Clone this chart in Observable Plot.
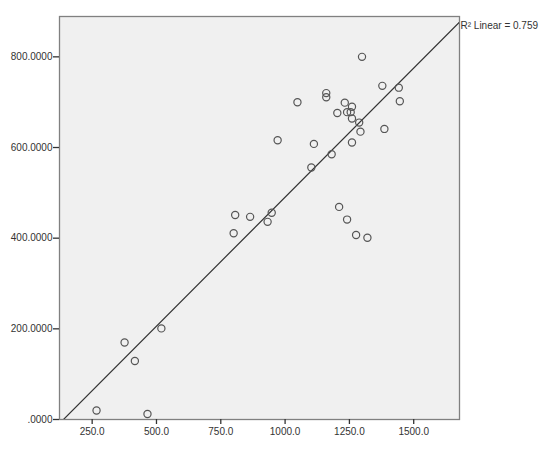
<!DOCTYPE html>
<html>
<head>
<meta charset="utf-8">
<script src="https://cdn.jsdelivr.net/npm/d3@7"></script>
<script src="https://cdn.jsdelivr.net/npm/@observablehq/plot@0.6"></script>
<style>
  html, body { margin: 0; padding: 0; background: #fff; }
  #chart { width: 550px; height: 449px; }
</style>
</head>
<body>
<div id="chart"></div>
<script>
const xValues = [1299, 1378, 1442, 1446, 1160, 1160, 1048, 1232, 1260, 1203, 1241, 1255, 1260, 1288, 1293, 1386, 971, 1112, 1260, 1181, 1102,
                 806, 864, 948, 932, 800, 1210, 1241, 1276, 1320,
                 519, 376, 416, 267, 465];
const yValues = [800, 736, 732, 702, 720, 711, 700, 699, 690, 676, 678, 678, 664, 655, 635, 641, 616, 608, 611, 585, 556,
                 451, 447, 456, 436, 411, 469, 441, 407, 401,
                 201, 170, 129, 20, 12];
const xTicks = [250, 500, 750, 1000, 1250, 1500];
const yTicks = [0, 200, 400, 600, 800];
const xDomain = [123, 1678];
const yDomain = [0, 889];
const fitLabel = "R² Linear = 0.759";

const points = xValues.map((x, i) => ({x, y: yValues[i]}));
const mx = d3.mean(xValues), my = d3.mean(yValues);
const slope = d3.sum(points, p => (p.x - mx) * (p.y - my)) / d3.sum(points, p => (p.x - mx) ** 2);
const intercept = my - slope * mx;
const fitLine = xDomain.map(x => ({x, y: intercept + slope * x}));

const chart = Plot.plot({
  width: 550,
  height: 449,
  marginLeft: 59,
  marginRight: 91,
  marginTop: 16,
  marginBottom: 30,
  style: {fontFamily: "'Liberation Sans', Arial, sans-serif", fontSize: "10px", color: "#333", background: "#fff"},
  x: {domain: xDomain, ticks: xTicks, tickFormat: d => d.toFixed(1), tickSize: 5, label: null},
  y: {domain: yDomain, ticks: yTicks, tickFormat: d => d === 0 ? ".0000" : d.toFixed(4), tickSize: 6, label: null},
  marks: [
    Plot.frame({fill: "#f0f0f0", stroke: "#808080", strokeWidth: 1.3}),
    Plot.axisX({ticks: xTicks, tickFormat: d => d.toFixed(1), tickSize: 5, tickPadding: 3, stroke: "#333", strokeWidth: 1.3}),
    Plot.axisY({ticks: yTicks, tickFormat: d => d === 0 ? ".0000" : d.toFixed(4), tickSize: 6, tickPadding: 1, stroke: "#333", strokeWidth: 1.3}),
    Plot.line(fitLine, {x: "x", y: "y", stroke: "#333", strokeWidth: 1.2, clip: true}),
    Plot.dot(points, {x: "x", y: "y", r: 3.6, stroke: "#555", strokeWidth: 1.2, fill: "none"}),
    Plot.text([fitLabel], {x: xDomain[1], y: yDomain[1], text: d => d, textAnchor: "start", dx: 1, dy: 9, fontSize: 10, fill: "#333"})
  ]
});
document.getElementById("chart").appendChild(chart);
</script>
</body>
</html>
